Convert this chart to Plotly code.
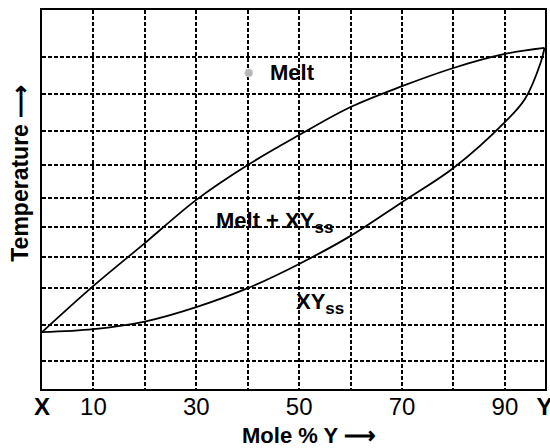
import plotly.graph_objects as go

# composition (mole % Y) and temperature (arbitrary units, 0-100 of the frame)
liq_x = [0, 10, 20, 30, 40, 50, 60, 70, 80, 90, 97.7]
liquidus = [15.0, 27.2, 38.5, 49.9, 59.1, 67.0, 74.4, 79.9, 84.7, 88.4, 90.0]
sol_x = [0, 10, 20, 30, 40, 50, 60, 70, 80, 90, 93.9, 97.0, 97.7]
solidus = [15.0, 15.8, 17.8, 21.6, 26.6, 33.0, 40.4, 49.3, 58.3, 70.4, 76.5, 86.3, 90.0]

tick_vals = [0, 10, 30, 50, 70, 90, 97.7]
tick_text = ["<b>X</b>", "10", "30", "50", "70", "90", "<b>Y</b>"]
grid_x = [10, 20, 30, 40, 50, 60, 70, 80, 90]
grid_y = [7.4, 16.9, 26.6, 34.8, 42.7, 50.4, 59.1, 68.1, 77.8, 87.6]

FONT = "Liberation Sans, Arial, Helvetica, sans-serif"
SS = "<sub><span style='font-size:17px'>ss</span></sub>"

fig = go.Figure()
fig.add_trace(go.Scatter(x=liq_x, y=liquidus, mode="lines",
                         line=dict(color="black", width=1.8, shape="spline", smoothing=1.0),
                         hoverinfo="skip", showlegend=False))
fig.add_trace(go.Scatter(x=sol_x, y=solidus, mode="lines",
                         line=dict(color="black", width=1.8, shape="spline", smoothing=1.0),
                         hoverinfo="skip", showlegend=False))
fig.add_trace(go.Scatter(x=[40.2], y=[83.4], mode="markers",
                         marker=dict(color="#b5b5b5", size=8, line=dict(color="#d0d0d0", width=1)),
                         hoverinfo="skip", showlegend=False))

fig.add_annotation(x=43.9, y=83.4, text="<b>Melt</b>", showarrow=False,
                   xanchor="left", yanchor="middle", font=dict(size=22, color="black", family=FONT))
fig.add_annotation(x=33.4, y=44.0, text="<b>Melt + XY" + SS + "</b>", showarrow=False,
                   xanchor="left", yanchor="middle", font=dict(size=22, color="black", family=FONT))
fig.add_annotation(x=49.0, y=22.6, text="<b>XY" + SS + "</b>", showarrow=False,
                   xanchor="left", yanchor="middle", font=dict(size=22, color="black", family=FONT))

fig.add_annotation(xref="paper", yref="paper", x=-0.043, y=0.569, text="<b>Temperature ⟶</b>",
                   textangle=-90, showarrow=False, xanchor="center", yanchor="middle",
                   font=dict(size=23, color="black", family=FONT))
fig.add_annotation(xref="paper", yref="paper", x=0.53, y=-0.124, text="<b>Mole % Y ⟶</b>",
                   showarrow=False, xanchor="center", yanchor="middle",
                   font=dict(size=22, color="black", family=FONT))

fig.update_xaxes(range=[0, 97.8], tickmode="array", tickvals=tick_vals, ticktext=tick_text,
                 automargin=False, ticklabeloverflow="allow", ticklabelstandoff=-5,
                 showgrid=False, zeroline=False, showline=True, linecolor="black", linewidth=2,
                 mirror=True, ticks="",
                 tickfont=dict(size=24, color="black", family=FONT),
                 minor=dict(tickmode="array", tickvals=grid_x, showgrid=True, gridcolor="black",
                            gridwidth=1.6, griddash="4px,2px", ticks=""))
fig.update_yaxes(range=[0, 100], tickmode="array", tickvals=grid_y, showticklabels=False,
                 automargin=False,
                 showgrid=True, gridcolor="black", gridwidth=1.6, griddash="4px,2px",
                 zeroline=False, showline=True, linecolor="black", linewidth=2, mirror=True, ticks="")

fig.update_layout(width=550, height=448, margin=dict(l=42, r=5, t=10, b=59),
                  plot_bgcolor="white", paper_bgcolor="white")
fig.write_html("out.html", config={"displayModeBar": False},
               post_script="document.body.style.margin='0';document.body.style.overflow='hidden';")
